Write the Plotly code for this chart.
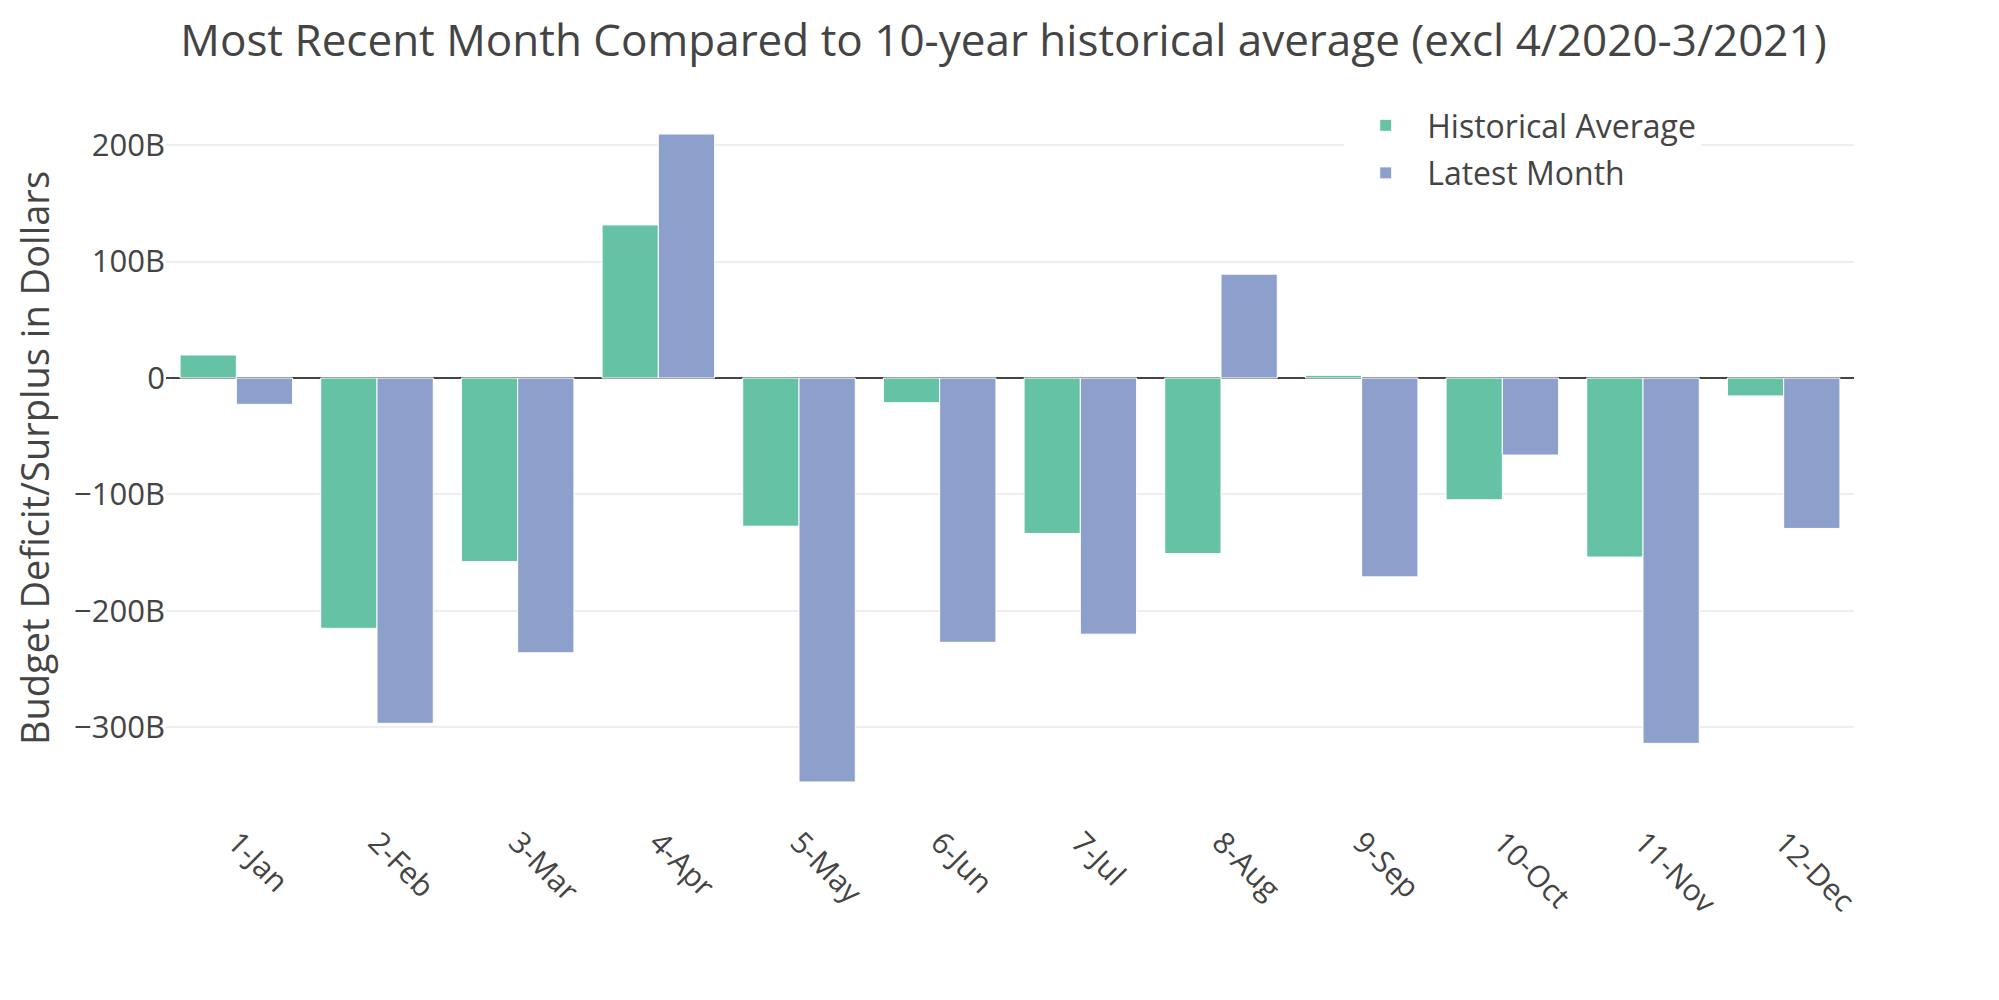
import plotly.graph_objects as go

months = ['1-Jan', '2-Feb', '3-Mar', '4-Apr', '5-May', '6-Jun',
          '7-Jul', '8-Aug', '9-Sep', '10-Oct', '11-Nov', '12-Dec']

# billions of dollars
historical_avg = [19.8, -215, -157.7, 131.5, -127.3, -21.2,
                  -133.5, -150.8, 2.3, -104.6, -153.8, -15.4]
latest_month = [-22.6, -296.6, -236, 209.6, -347, -227,
                -220, 89.2, -170.8, -66.2, -313.8, -129.2]

title_text = 'Most Recent Month Compared to 10-year historical average (excl 4/2020-3/2021)'
y_title = 'Budget Deficit/Surplus in Dollars'

fig = go.Figure()
fig.add_trace(go.Bar(
    x=months,
    y=[v * 1e9 for v in historical_avg],
    name='Historical Average',
    legendgroup='hist',
    marker=dict(color='#66c2a5', line=dict(color='white', width=1)),
))
fig.add_trace(go.Bar(
    x=months,
    y=[v * 1e9 for v in latest_month],
    name='Latest Month',
    legendgroup='latest',
    marker=dict(color='#8da0cb', line=dict(color='white', width=1)),
))

# page body has an 8px margin, so the figure is a bit smaller than the window
fig.update_layout(
    template='none',
    width=1991,
    height=992,
    margin=dict(l=158, r=145, t=90, b=182),
    font=dict(family='Open Sans, verdana, arial, sans-serif', color='#444'),
    title=dict(text=title_text, x=0.5, xanchor='center', y=0.967, yanchor='middle',
               font=dict(size=44, color='#444')),
    barmode='group',
    bargap=0.2,
    legend=dict(x=0.698, y=1, xanchor='left', yanchor='top',
                bgcolor='white', font=dict(size=32),
                itemwidth=73, tracegroupgap=3),
    xaxis=dict(
        tickangle=45,
        tickfont=dict(size=30),
        showgrid=False,
        zeroline=False,
        showline=False,
    ),
    yaxis=dict(
        title=dict(text=y_title, font=dict(size=38), standoff=12),
        tickfont=dict(size=31),
        exponentformat='B',
        dtick=100e9,
        gridcolor='#eee',
        gridwidth=2,
        zeroline=True,
        zerolinecolor='#444',
        zerolinewidth=2,
        showline=False,
    ),
    paper_bgcolor='white',
    plot_bgcolor='white',
)

fig.write_html('out.html')
